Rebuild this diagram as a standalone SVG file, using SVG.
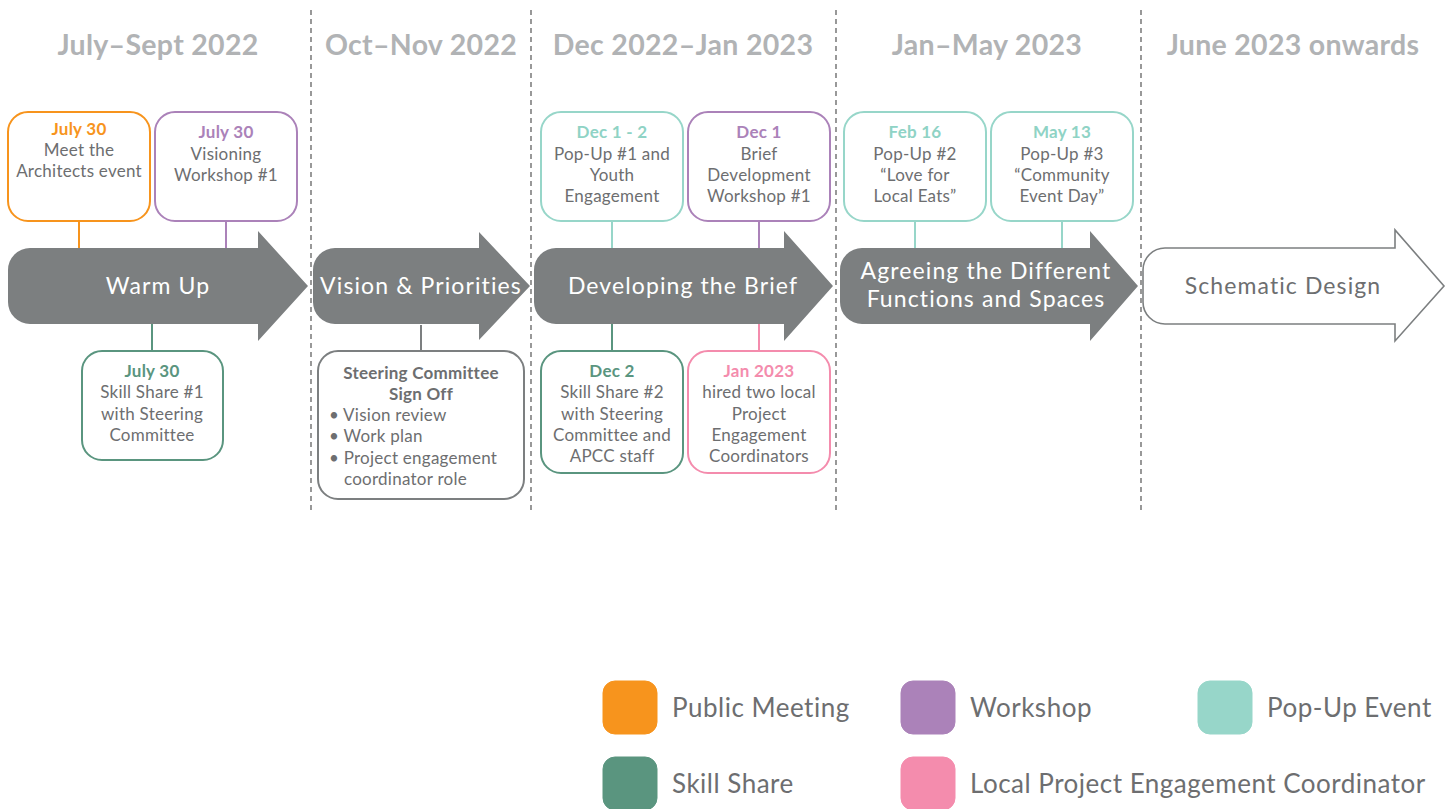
<svg xmlns="http://www.w3.org/2000/svg" width="1452" height="809" viewBox="0 0 1452 809">
  <style>
    .hdr { font-family: Lato, "Noto Sans", sans-serif; font-weight: 700; font-size: 28.5px; letter-spacing: 0.3px; fill: #b1b3b5; text-anchor: middle; }
    .phase { font-family: Lato, "Noto Sans", sans-serif; font-size: 23px; fill: #ffffff; text-anchor: middle; letter-spacing: 1.1px; }
    .phase-dark { fill: #6d6e70; }
    .arrow { fill: #7c7f80; }
    .arrow-open { fill: #ffffff; stroke: #7c7f80; stroke-width: 1.6; }
    .box { fill: #ffffff; stroke-width: 2; }
    .t { font-family: Lato, "Noto Sans", sans-serif; font-size: 17px; letter-spacing: 0.25px; fill: #6d6e70; text-anchor: middle; }
    .tl { font-family: Lato, "Noto Sans", sans-serif; font-size: 17px; letter-spacing: 0.25px; fill: #6d6e70; }
    .d { font-weight: 700; }
    .div { stroke: #555555; stroke-width: 1.2; stroke-dasharray: 5 4; }
    .lg { font-family: Lato, "Noto Sans", sans-serif; font-size: 26px; letter-spacing: 0.5px; fill: #6d6e70; }
    .c-pub { stroke: #f7941d; fill: #f7941d; }
    .c-ws { stroke: #ab82b9; fill: #ab82b9; }
    .c-pop { stroke: #97d6c9; fill: #97d6c9; }
    .c-ss { stroke: #5a957f; fill: #5a957f; }
    .c-lpec { stroke: #f48cad; fill: #f48cad; }
    .c-gray { stroke: #7c7f80; fill: #7c7f80; }
    .ln { stroke-width: 2; fill: none; }
  </style>

  <!-- period dividers -->
  <g id="dividers">
    <line class="div" x1="311" y1="10" x2="311" y2="512"/>
    <line class="div" x1="531" y1="10" x2="531" y2="512"/>
    <line class="div" x1="836" y1="10" x2="836" y2="512"/>
    <line class="div" x1="1141" y1="10" x2="1141" y2="512"/>
  </g>

  <!-- period headings -->
  <g id="headings">
    <text class="hdr" x="158" y="55">July–Sept 2022</text>
    <text class="hdr" x="421" y="55">Oct–Nov 2022</text>
    <text class="hdr" x="683" y="55">Dec 2022–Jan 2023</text>
    <text class="hdr" x="987" y="55">Jan–May 2023</text>
    <text class="hdr" x="1293" y="55">June 2023 onwards</text>
  </g>

  <!-- links between event boxes and phase arrows -->
  <g id="connectors">
    <line class="ln c-pub" x1="79" y1="221" x2="79" y2="248"/>
    <line class="ln c-ws" x1="226" y1="221" x2="226" y2="248"/>
    <line class="ln c-ss" x1="152" y1="324" x2="152" y2="351"/>
    <line class="ln c-gray" x1="421" y1="325" x2="421" y2="351"/>
    <line class="ln c-pop" x1="612" y1="221" x2="612" y2="248"/>
    <line class="ln c-ws" x1="759" y1="221" x2="759" y2="248"/>
    <line class="ln c-ss" x1="612" y1="324" x2="612" y2="351"/>
    <line class="ln c-lpec" x1="759" y1="324" x2="759" y2="351"/>
    <line class="ln c-pop" x1="915" y1="221" x2="915" y2="248"/>
    <line class="ln c-pop" x1="1062" y1="221" x2="1062" y2="248"/>
  </g>

  <!-- phase arrows -->
  <g id="phase-warm-up">
    <path class="arrow" d="M30,248 H258 V231 L308,286 L258,341 V324 H30 A22,22 0 0 1 8,302 V270 A22,22 0 0 1 30,248 Z"/>
    <text class="phase" x="158" y="294">Warm Up</text>
  </g>
  <g id="phase-vision">
    <path class="arrow" d="M335,248 H479 V232 L530,286 L479,340 V324 H335 A22,22 0 0 1 313,302 V270 A22,22 0 0 1 335,248 Z"/>
    <text class="phase" x="421" y="294">Vision &amp; Priorities</text>
  </g>
  <g id="phase-brief">
    <path class="arrow" d="M556,248 H784 V231 L833,286 L784,341 V324 H556 A22,22 0 0 1 534,302 V270 A22,22 0 0 1 556,248 Z"/>
    <text class="phase" x="683" y="294">Developing the Brief</text>
  </g>
  <g id="phase-functions">
    <path class="arrow" d="M862,248 H1090 V231 L1138,286 L1090,341 V324 H862 A22,22 0 0 1 840,302 V270 A22,22 0 0 1 862,248 Z"/>
    <text class="phase" x="986" y="279">Agreeing the Different</text>
    <text class="phase" x="986" y="307">Functions and Spaces</text>
  </g>
  <g id="phase-schematic">
    <path class="arrow-open" d="M1165,248 H1395 V230 L1444,286 L1395,341 V324 H1165 A22,22 0 0 1 1143,302 V270 A22,22 0 0 1 1165,248 Z"/>
    <text class="phase phase-dark" x="1283" y="294">Schematic Design</text>
  </g>

  <!-- event boxes -->
  <g id="ev-meet-architects">
    <rect class="box" x="8" y="112" width="142" height="109" rx="20" stroke="#f7941d"/>
    <text class="t d" x="79" y="135" style="fill:#f7941d">July 30</text>
    <text class="t" x="79" y="156">Meet the</text>
    <text class="t" x="79" y="177">Architects event</text>
  </g>
  <g id="ev-visioning">
    <rect class="box" x="155" y="112" width="142" height="109" rx="20" stroke="#ab82b9"/>
    <text class="t d" x="226" y="138" style="fill:#ab82b9">July 30</text>
    <text class="t" x="226" y="160">Visioning</text>
    <text class="t" x="226" y="181">Workshop #1</text>
  </g>
  <g id="ev-skill-share-1">
    <rect class="box" x="82" y="351" width="141" height="109" rx="20" stroke="#5a957f"/>
    <text class="t d" x="152" y="377" style="fill:#5a957f">July 30</text>
    <text class="t" x="152" y="398">Skill Share #1</text>
    <text class="t" x="152" y="420">with Steering</text>
    <text class="t" x="152" y="441">Committee</text>
  </g>
  <g id="ev-sign-off">
    <rect class="box" x="318" y="351" width="206" height="148" rx="20" stroke="#7c7f80"/>
    <text class="t d" x="421" y="379">Steering Committee</text>
    <text class="t d" x="421" y="400">Sign Off</text>
    <text class="tl" x="329" y="421">• Vision review</text>
    <text class="tl" x="329" y="442">• Work plan</text>
    <text class="tl" x="329" y="464">• Project engagement</text>
    <text class="tl" x="344" y="485">coordinator role</text>
  </g>
  <g id="ev-popup-1">
    <rect class="box" x="541" y="112" width="142" height="109" rx="20" stroke="#97d6c9"/>
    <text class="t d" x="612" y="138" style="fill:#8fd3c5">Dec 1 - 2</text>
    <text class="t" x="612" y="160">Pop-Up #1 and</text>
    <text class="t" x="612" y="181">Youth</text>
    <text class="t" x="612" y="202">Engagement</text>
  </g>
  <g id="ev-brief-workshop">
    <rect class="box" x="688" y="112" width="142" height="109" rx="20" stroke="#ab82b9"/>
    <text class="t d" x="759" y="138" style="fill:#ab82b9">Dec 1</text>
    <text class="t" x="759" y="160">Brief</text>
    <text class="t" x="759" y="181">Development</text>
    <text class="t" x="759" y="202">Workshop #1</text>
  </g>
  <g id="ev-skill-share-2">
    <rect class="box" x="541" y="351" width="142" height="122" rx="20" stroke="#5a957f"/>
    <text class="t d" x="612" y="377" style="fill:#5a957f">Dec 2</text>
    <text class="t" x="612" y="398">Skill Share #2</text>
    <text class="t" x="612" y="420">with Steering</text>
    <text class="t" x="612" y="441">Committee and</text>
    <text class="t" x="612" y="462">APCC staff</text>
  </g>
  <g id="ev-coordinators">
    <rect class="box" x="688" y="351" width="142" height="122" rx="20" stroke="#f48cad"/>
    <text class="t d" x="759" y="377" style="fill:#f48cad">Jan 2023</text>
    <text class="t" x="759" y="398">hired two local</text>
    <text class="t" x="759" y="420">Project</text>
    <text class="t" x="759" y="441">Engagement</text>
    <text class="t" x="759" y="462">Coordinators</text>
  </g>
  <g id="ev-popup-2">
    <rect class="box" x="844" y="112" width="142" height="109" rx="20" stroke="#97d6c9"/>
    <text class="t d" x="915" y="138" style="fill:#8fd3c5">Feb 16</text>
    <text class="t" x="915" y="160">Pop-Up #2</text>
    <text class="t" x="915" y="181">“Love for</text>
    <text class="t" x="915" y="202">Local Eats”</text>
  </g>
  <g id="ev-popup-3">
    <rect class="box" x="991" y="112" width="142" height="109" rx="20" stroke="#97d6c9"/>
    <text class="t d" x="1062" y="138" style="fill:#8fd3c5">May 13</text>
    <text class="t" x="1062" y="160">Pop-Up #3</text>
    <text class="t" x="1062" y="181">“Community</text>
    <text class="t" x="1062" y="202">Event Day”</text>
  </g>

  <!-- legend -->
  <g id="legend">
    <rect class="c-pub" x="603" y="681" width="54" height="53" rx="12" stroke="none"/>
    <text class="lg" x="672" y="717">Public Meeting</text>
    <rect class="c-ws" x="901" y="681" width="54" height="53" rx="12" stroke="none"/>
    <text class="lg" x="970" y="717">Workshop</text>
    <rect class="c-pop" x="1198" y="681" width="54" height="53" rx="12" stroke="none"/>
    <text class="lg" x="1267" y="717">Pop-Up Event</text>
    <rect class="c-ss" x="603" y="757" width="54" height="53" rx="12" stroke="none"/>
    <text class="lg" x="672" y="793">Skill Share</text>
    <rect class="c-lpec" x="901" y="757" width="54" height="53" rx="12" stroke="none"/>
    <text class="lg" x="970" y="793">Local Project Engagement Coordinator</text>
  </g>
</svg>
